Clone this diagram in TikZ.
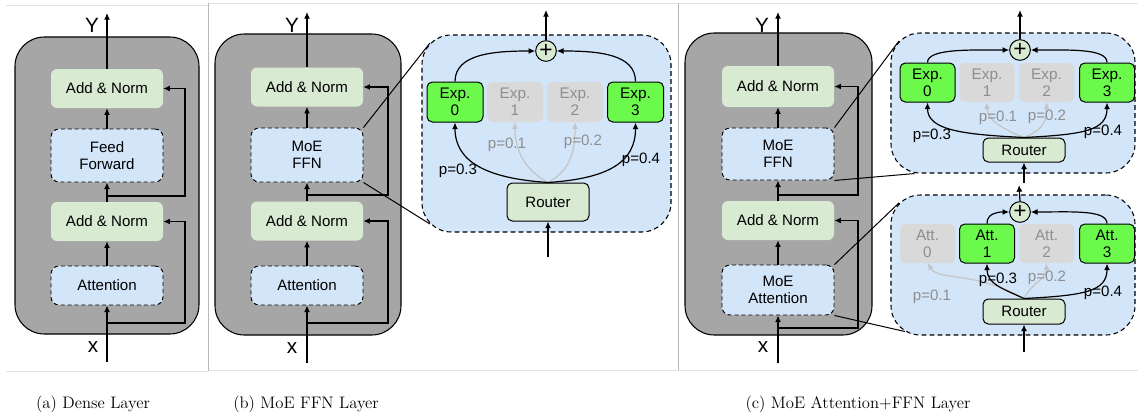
\documentclass[tikz,border=0pt]{standalone}
\usepackage{fontspec}
\newfontfamily\diafont{Liberation Sans}
\usetikzlibrary{arrows.meta,calc}
\definecolor{layergray}{HTML}{A6A6A6}
\definecolor{normgreen}{HTML}{D9EAD3}
\definecolor{moeblue}{HTML}{D3E5F8}
\definecolor{expgreen}{HTML}{6BFA4C}
\definecolor{offgray}{HTML}{D9D9D9}
\definecolor{offtext}{HTML}{8E8E8E}
\definecolor{arrgray}{HTML}{C4C4C4}
\definecolor{framelight}{HTML}{E2E2E2}
\definecolor{framedark}{HTML}{B8B8B8}
\tikzset{
  base/.style={font=\diafont\fontsize{11.3}{13}\selectfont, align=center, inner sep=0pt},
  lbl/.style={font=\diafont\fontsize{11.3}{13}\selectfont, inner sep=0pt},
  glbl/.style={lbl, text=offtext},
  io/.style={font=\diafont\fontsize{15.5}{17}\selectfont, inner sep=0pt},
  captext/.style={font=\fontsize{12.5}{14}\selectfont, inner sep=0pt},
  layerbox/.style={draw=black, fill=layergray, rounded corners=22pt, line width=0.8pt},
  annorm/.style={base, fill=normgreen, rounded corners=4.5pt, minimum width=84pt, minimum height=29.25pt},
  dbox/.style={base, draw=black, dash pattern=on 3pt off 2.2pt, fill=moeblue, rounded corners=6pt, minimum width=84pt, line width=0.7pt},
  bigbox/.style={draw=black, dash pattern=on 3.5pt off 2.5pt, fill=moeblue, rounded corners=22pt, line width=0.8pt},
  expon/.style={base, font=\diafont\fontsize{11.5}{13}\selectfont, draw=black, fill=expgreen, rounded corners=4pt, line width=0.75pt},
  expoff/.style={base, font=\diafont\fontsize{11.5}{13}\selectfont, fill=offgray, text=offtext, rounded corners=4pt},
  router/.style={base, draw=black, fill=normgreen, rounded corners=4pt, minimum width=61.5pt, line width=0.75pt},
  plusc/.style={circle, draw=black, fill=normgreen, minimum size=15.5pt, inner sep=0pt, line width=0.75pt, font=\diafont\fontsize{17}{17}\selectfont},
  arr/.style={-{Latex[length=5pt,width=4.5pt]}, line width=0.9pt},
  garr/.style={arr, draw=arrgray},
  zoomline/.style={line width=0.75pt},
  framel/.style={draw=framelight, line width=0.6pt},
  framev/.style={draw=framedark, line width=0.7pt}
}
\begin{document}
\begin{tikzpicture}[x=0.75pt,y=-0.75pt]
\useasboundingbox (0,0) rectangle (1138,418);
% frame lines
\draw[framel] (6,5) -- (208,5);
\draw[framel] (208,3) -- (1138,3);
\draw[framel] (6,371) -- (208,371);
\draw[framel] (208,370) -- (1138,370);
\draw[framev] (208,3) -- (208,371);
\draw[framev] (678,3) -- (678,370);

%% ---------------- (a) Dense layer ----------------
\node[layerbox, minimum width=138pt, minimum height=222.75pt] (La) at (107,185.5) {};
\node[annorm] (aAN1) at (107,88.5) {Add \& Norm};
\node[dbox, minimum height=39.75pt] (aFF) at (107,155.5) {Feed\\Forward};
\node[annorm] (aAN2) at (107,221.5) {Add \& Norm};
\node[dbox, minimum height=29.25pt] (aAtt) at (107,285.5) {Attention};
\node[io] (aY) at (92,25) {Y};
\node[io] (aX) at (93,347) {x};
\coordinate (aIn) at (107,362);
\coordinate (aOut) at (107,13);
\coordinate (aR1) at (107,323);
\coordinate (aR2) at (107,196);
\draw[arr] (aIn) -- (aAtt.south);
\draw[arr] (aAtt.north) -- (aAN2.south);
\draw[arr] (aAN2.north) -- (aFF.south);
\draw[arr] (aFF.north) -- (aAN1.south);
\draw[arr] (aAN1.north) -- (aOut);
\draw[arr] (aR1) -- ++(78,0) |- (aAN2.east);
\draw[arr] (aR2) -- ++(78,0) |- (aAN1.east);
\node[captext] (capa) at (93,404) {(a) Dense Layer};

%% ---------------- (b) MoE FFN layer ----------------
\node[layerbox, minimum width=139.5pt, minimum height=225.75pt] (Lb) at (308,184.5) {};
\node[annorm] (bAN1) at (307,87) {Add \& Norm};
\node[dbox, minimum height=40.5pt] (bMoE) at (307,155) {MoE\\FFN};
\node[annorm] (bAN2) at (307,221) {Add \& Norm};
\node[dbox, minimum height=29.25pt] (bAtt) at (307,285.5) {Attention};
\node[io] (bY) at (292,25) {Y};
\node[io] (bX) at (292,348) {x};
\coordinate (bIn) at (307,363);
\coordinate (bOut) at (307,12);
\coordinate (bR1) at (307,323);
\coordinate (bR2) at (307,195);
\draw[arr] (bIn) -- (bAtt.south);
\draw[arr] (bAtt.north) -- (bAN2.south);
\draw[arr] (bAN2.north) -- (bMoE.south);
\draw[arr] (bMoE.north) -- (bAN1.south);
\draw[arr] (bAN1.north) -- (bOut);
\draw[arr] (bR1) -- ++(81,0) |- (bAN2.east);
\draw[arr] (bR2) -- ++(81,0) |- (bAN1.east);
\node[captext] (capb) at (306,404) {(b) MoE FFN Layer};

% expanded MoE FFN
\node[bigbox, minimum width=186.75pt, minimum height=147.75pt] (bB) at (546.5,133.5) {};
\draw[zoomline] (bMoE.north east) -- ($(bB.north west)+(8.5,8.5)$);
\draw[zoomline] (bMoE.south east) -- ($(bB.south west)+(8.5,-8.5)$);
\node[plusc] (bPlus) at (546,51) {+};
\node[expon, minimum width=42pt, minimum height=30pt] (bE0) at (455,102) {Exp.\\0};
\node[expoff, minimum width=42pt, minimum height=30pt] (bE1) at (515,102) {Exp.\\1};
\node[expoff, minimum width=42pt, minimum height=30pt] (bE2) at (575,102) {Exp.\\2};
\node[expon, minimum width=42pt, minimum height=30pt] (bE3) at (635.5,102) {Exp.\\3};
\node[router, minimum height=28.5pt] (bR) at (548,202) {Router};
\coordinate (bRin) at (548,257);
\coordinate (bPout) at (546,10);
\draw[arr] (bRin) -- (bR.south);
\draw[arr] (bPlus.north) -- (bPout);
\draw[arr] (bE0.north) .. controls +(0,-28) and +(-40,0) .. (bPlus.west);
\draw[arr] (bE3.north) .. controls +(0,-28) and +(40,0) .. (bPlus.east);
\draw[garr] (bR.north) .. controls +(-22,-12) and +(0,30) .. (bE1.south);
\draw[garr] (bR.north) .. controls +(22,-12) and +(0,30) .. (bE2.south);
\draw[arr] (bR.north) .. controls +(-60,-4) and +(0,40) .. (bE0.south);
\draw[arr] (bR.north) .. controls +(60,-4) and +(0,40) .. (bE3.south);
\node[lbl] (bp3) at (458,171) {p=0.3};
\node[glbl] (bp1) at (507,145) {p=0.1};
\node[glbl] (bp2) at (583,142) {p=0.2};
\node[lbl] (bp4) at (641,160) {p=0.4};

%% ---------------- (c) MoE Attention + FFN layer ----------------
\node[layerbox, minimum width=140.25pt, minimum height=226.5pt] (Lc) at (778.5,184) {};
\node[annorm, minimum height=30.75pt] (cAN1) at (778,86.5) {Add \& Norm};
\node[dbox, minimum height=39pt] (cMoF) at (778,154) {MoE\\FFN};
\node[annorm] (cAN2) at (778,220.5) {Add \& Norm};
\node[dbox, minimum height=37.5pt] (cMoA) at (778,290) {MoE\\Attention};
\node[io] (cY) at (762,25) {Y};
\node[io] (cX) at (763,347) {x};
\coordinate (cIn) at (778,363);
\coordinate (cOut) at (778,12);
\coordinate (cR1) at (778,328);
\coordinate (cR2) at (778,195);
\draw[arr] (cIn) -- (cMoA.south);
\draw[arr] (cMoA.north) -- (cAN2.south);
\draw[arr] (cAN2.north) -- (cMoF.south);
\draw[arr] (cMoF.north) -- (cAN1.south);
\draw[arr] (cAN1.north) -- (cOut);
\draw[arr] (cR1) -- ++(80,0) |- (cAN2.east);
\draw[arr] (cR2) -- ++(80,0) |- (cAN1.east);
\node[captext] (capc) at (858,404) {(c) MoE Attention+FFN Layer};

% upper expanded: MoE FFN
\node[bigbox, minimum width=183pt, minimum height=105pt] (cU) at (1013,103) {};
\draw[zoomline] (cMoF.north east) -- ($(cU.north west)+(8.5,8.5)$);
\draw[zoomline] (cMoF.south east) -- ($(cU.south west)+(24,0)$);
\node[plusc] (cUPlus) at (1020,50) {+};
\node[expon, minimum width=41.25pt, minimum height=29.25pt] (cE0) at (927.5,82.5) {Exp.\\0};
\node[expoff, minimum width=41.25pt, minimum height=29.25pt] (cE1) at (987,82.5) {Exp.\\1};
\node[expoff, minimum width=41.25pt, minimum height=29.25pt] (cE2) at (1046.5,82.5) {Exp.\\2};
\node[expon, minimum width=41.25pt, minimum height=29.25pt] (cE3) at (1107,82.5) {Exp.\\3};
\node[router, minimum height=18pt] (cUR) at (1024,150) {Router};
\coordinate (cUout) at (1020,10);
\coordinate (cURin) at (1024,183);
\draw[arr] (cUPlus.north) -- (cUout);
\draw[arr] (cURin) -- (cUR.south);
\draw[arr] (cE0.north) .. controls +(0,-14) and +(-40,0) .. (cUPlus.west);
\draw[arr] (cE3.north) .. controls +(0,-14) and +(40,0) .. (cUPlus.east);
\draw[garr] (cUR.north) .. controls +(-20,-8) and +(0,18) .. (cE1.south);
\draw[garr] (cUR.north) .. controls +(20,-8) and +(0,18) .. (cE2.south);
\draw[arr] (cUR.north) .. controls +(-60,-3) and +(0,28) .. (cE0.south);
\draw[arr] (cUR.north) .. controls +(60,-3) and +(0,28) .. (cE3.south);
\node[lbl] (cp3) at (932,136) {p=0.3};
\node[glbl] (cp1) at (998,118) {p=0.1};
\node[glbl] (cp2) at (1047,117) {p=0.2};
\node[lbl] (cp4) at (1103,132) {p=0.4};

% lower expanded: MoE Attention
\node[bigbox, minimum width=183pt, minimum height=105pt] (cL) at (1013,265) {};
\draw[zoomline] (cMoA.north east) -- ($(cL.north west)+(8.5,8.5)$);
\draw[zoomline] (cMoA.south east) -- ($(cL.south west)+(14.5,-4)$);
\node[plusc] (cLPlus) at (1020,212) {+};
\node[expoff, minimum width=41.25pt, minimum height=29.25pt] (cA0) at (927.5,243.5) {Att.\\0};
\node[expon, minimum width=41.25pt, minimum height=29.25pt] (cA1) at (987,243.5) {Att.\\1};
\node[expoff, minimum width=41.25pt, minimum height=29.25pt] (cA2) at (1046.5,243.5) {Att.\\2};
\node[expon, minimum width=41.25pt, minimum height=29.25pt] (cA3) at (1107,243.5) {Att.\\3};
\node[router, minimum height=18.75pt] (cLR) at (1024,311.5) {Router};
\coordinate (cLout) at (1019,185);
\coordinate (cLRin) at (1024,352);
\draw[arr] (cLPlus.north) -- (cLout);
\draw[arr] (cLRin) -- (cLR.south);
\draw[arr] (cA1.north) .. controls +(0,-10) and +(-12,0) .. (cLPlus.west);
\draw[arr] (cA3.north) .. controls +(0,-14) and +(40,0) .. (cLPlus.east);
\draw[garr] (cLR.north) .. controls +(-50,-28) and +(12,18) .. (cA0.south);
\draw[garr] (cLR.north) .. controls +(8,-16) and +(0,16) .. (cA2.south);
\draw[arr] (cLR.north) .. controls +(-22,-10) and +(0,20) .. (cA1.south);
\draw[arr] (cLR.north) .. controls +(60,-3) and +(0,28) .. (cA3.south);
\node[lbl] (dp3) at (998,280) {p=0.3};
\node[glbl] (dp2) at (1047,278) {p=0.2};
\node[glbl] (dp1) at (932,297) {p=0.1};
\node[lbl] (dp4) at (1103,293) {p=0.4};
\end{tikzpicture}
\end{document}
